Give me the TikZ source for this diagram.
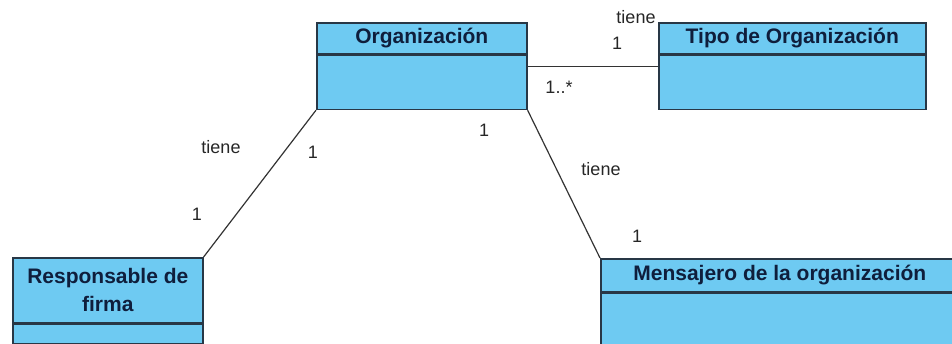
\documentclass[tikz,border=0pt]{standalone}
\usepackage{fontspec}
\setmainfont{Liberation Sans}
\usetikzlibrary{positioning}

\definecolor{clasefondo}{RGB}{110,202,242}
\definecolor{claseborde}{RGB}{40,55,70}
\definecolor{clasetexto}{RGB}{15,30,60}

\begin{document}
\begin{tikzpicture}[x=1pt,y=-1pt,
    cabecera/.style={draw=claseborde,line width=1.6pt,fill=clasefondo,inner sep=0pt,
        font=\fontsize{21}{28}\selectfont\bfseries,text=clasetexto,align=center},
    cuerpo/.style={draw=claseborde,line width=1.6pt,fill=clasefondo,inner sep=0pt},
    etiqueta/.style={font=\fontsize{18}{20}\selectfont,text=black!85,inner sep=0pt},
    asoc/.style={draw=black!80,line width=1.2pt}]
    \useasboundingbox (0,0) rectangle (952,344);
    % Clases
    \node[cabecera,minimum width=210pt,minimum height=31pt,anchor=north west] (org) at (316,22) {Organización};
    \node[cuerpo,minimum width=210pt,minimum height=54pt,anchor=north] (orgb) at (org.south) {};
    \node[cabecera,minimum width=267pt,minimum height=31pt,anchor=north west] (tipo) at (658,22) {Tipo de Organización};
    \node[cuerpo,minimum width=267pt,minimum height=54pt,anchor=north] (tipob) at (tipo.south) {};
    \node[cabecera,minimum width=190pt,minimum height=65pt,anchor=north west] (resp) at (12,257) {Responsable de\\firma};
    \node[cuerpo,minimum width=190pt,minimum height=19pt,anchor=north] (respb) at (resp.south) {};
    \node[cabecera,minimum width=358pt,minimum height=33pt,anchor=north west] (mens) at (600,258) {Mensajero de la organización};
    \node[cuerpo,minimum width=358pt,minimum height=51pt,anchor=north] (mensb) at (mens.south) {};
    % Asociaciones
    \draw[asoc] ([yshift=-12pt]orgb.north east) -- ([yshift=-12pt]tipob.north west);
    \draw[asoc] (orgb.south west) -- (resp.north east);
    \draw[asoc] (orgb.south east) -- (mens.north west);
    % Roles y multiplicidades
    \node[etiqueta] (t1) at (636,17) {tiene};
    \node[etiqueta] (m1) at (617,43) {1};
    \node[etiqueta] (m2) at (559,87) {1..*};
    \node[etiqueta] (t2) at (221,147) {tiene};
    \node[etiqueta] (m3) at (313,152) {1};
    \node[etiqueta] (m4) at (197,214) {1};
    \node[etiqueta] (m5) at (484,130) {1};
    \node[etiqueta] (t3) at (601,169) {tiene};
    \node[etiqueta] (m6) at (637,236) {1};
\end{tikzpicture}
\end{document}
